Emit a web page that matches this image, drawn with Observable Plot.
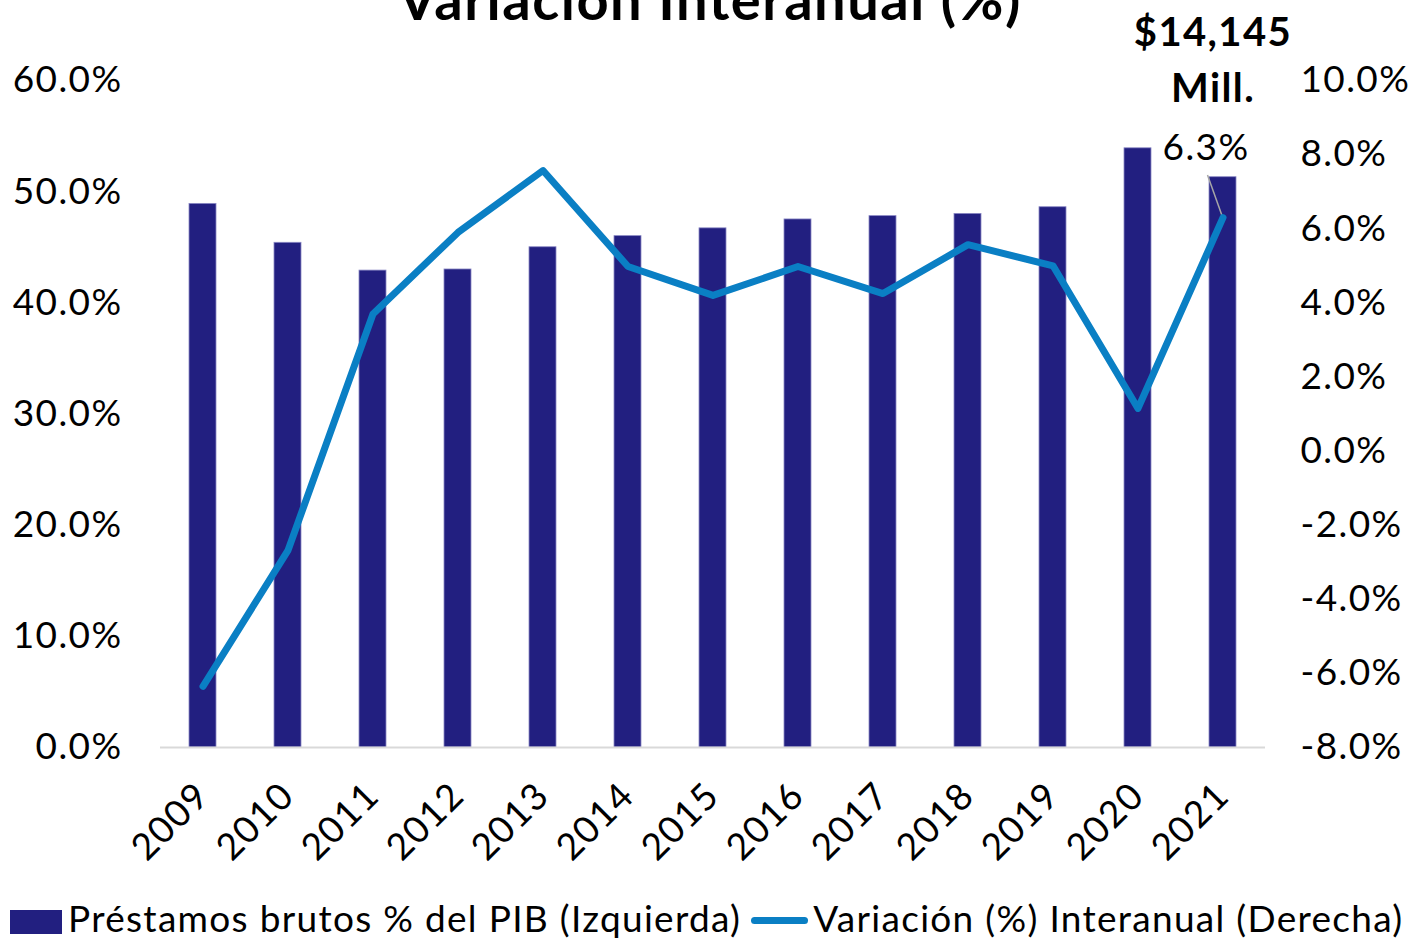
<!DOCTYPE html>
<html><head><meta charset="utf-8">
<script src="https://cdn.jsdelivr.net/npm/d3@7"></script>
<script src="https://cdn.jsdelivr.net/npm/@observablehq/plot@0.6"></script>
<style>
body{margin:0;background:#fff;font-family:Lato,sans-serif;color:#000;}
#wrap{position:relative;width:1413px;height:939px;overflow:hidden;background:#fff;}
#title{position:absolute;left:0;width:1420px;text-align:center;top:-35px;font-weight:bold;font-size:56px;line-height:68px;letter-spacing:1.5px;white-space:nowrap;z-index:2;}
#chart{position:absolute;left:0;top:0;z-index:1;}
#legend{position:absolute;left:10px;top:897px;display:flex;align-items:center;font-size:37px;line-height:42px;letter-spacing:1.3px;white-space:nowrap;z-index:2;}
.sq{width:52px;height:24px;background:#221f80;margin-right:6px;margin-top:8px;}
.ln{width:57px;height:7px;border-radius:3.5px;background:#0a7fc4;margin-left:10px;margin-right:5px;margin-top:4px;}
</style></head>
<body>
<div id="wrap">
  <div id="chart"></div>
  <div id="title">Variación Interanual (%)</div>
  <div id="legend"><div class="sq"></div><span>Préstamos brutos % del PIB (Izquierda)</span><div class="ln"></div><span>Variación (%) Interanual (Derecha)</span></div>
</div>
<script>
const years = ["2009","2010","2011","2012","2013","2014","2015","2016","2017","2018","2019","2020","2021"];
const loansPctGDP = [48.9, 45.4, 42.9, 43.0, 45.0, 46.0, 46.7, 47.5, 47.8, 48.0, 48.6, 53.9, 51.3];
const growthPct = [-6.35, -2.68, 3.7, 5.9, 7.57, 4.98, 4.2, 4.98, 4.25, 5.57, 5.0, 1.15, 6.3];
const leftTicks = [0, 10, 20, 30, 40, 50, 60];
const rightTicks = [-8, -6, -4, -2, 0, 2, 4, 6, 8, 10];
const annotationText = "$14,145\nMill.";
const lastLabel = "6.3%";

const data = years.map((y, i) => ({year: y, loans: loansPctGDP[i], growth: growthPct[i]}));
const rMin = -8, rMax = 10, lMin = 0, lMax = 60;
const toLeft = r => lMin + (r - rMin) * (lMax - lMin) / (rMax - rMin);
const toRight = l => rMin + (l - lMin) * (rMax - rMin) / (lMax - lMin);
const last = data[data.length - 1];

const leader = (index, scales) => {
  const bw = typeof scales.x.bandwidth === "function" ? scales.x.bandwidth() : (scales.x.bandwidth || 0);
  const x = scales.x(last.year) + bw / 2;
  const y = scales.y(toLeft(last.growth));
  const l = document.createElementNS("http://www.w3.org/2000/svg", "line");
  l.setAttribute("x1", x); l.setAttribute("y1", y);
  l.setAttribute("x2", x - 15); l.setAttribute("y2", y - 42);
  l.setAttribute("stroke", "#a6a6a6"); l.setAttribute("stroke-width", "1.5");
  return l;
};

const chart = Plot.plot({
  width: 1413, height: 880,
  marginTop: 80, marginBottom: 133, marginLeft: 160, marginRight: 148,
  style: {fontFamily: "Lato, sans-serif", fontSize: "37px", letterSpacing: "1.4px", color: "#000", background: "transparent", overflow: "visible"},
  x: {domain: years, paddingInner: 0.68, paddingOuter: 0.34, label: null},
  y: {domain: [lMin, lMax], label: null},
  marks: [
    Plot.barY(data, {x: "year", y: "loans", fill: "#221f80", stroke: "#8a88c4", strokeWidth: 0.8}),
    Plot.ruleY([0], {stroke: "#d9d9d9", strokeWidth: 2}),
    leader,
    Plot.line(data, {x: "year", y: d => toLeft(d.growth), stroke: "#0a7fc4", strokeWidth: 7, strokeLinejoin: "round", strokeLinecap: "round"}),
    Plot.text([last], {x: "year", y: d => toLeft(d.growth), text: () => lastLabel, dx: -17, dy: -69, fontSize: 37, fill: "#000"}),
    Plot.text([last], {x: "year", frameAnchor: "top", text: () => annotationText, dx: -10, dy: 21, lineAnchor: "bottom", lineHeight: 1.4, fontSize: 40, fontWeight: "bold", fill: "#000"}),
    Plot.axisY({ticks: leftTicks, tickFormat: d => d.toFixed(1) + "%", tickSize: 0, tickPadding: 38, label: null}),
    Plot.axisY({anchor: "right", ticks: rightTicks.map(toLeft), tickFormat: d => toRight(d).toFixed(1) + "%", tickSize: 0, tickPadding: 35, label: null}),
    Plot.axisX({tickRotate: -45, tickSize: 0, tickPadding: 42, label: null})
  ]
});
document.getElementById("chart").appendChild(chart);
</script>
</body></html>
